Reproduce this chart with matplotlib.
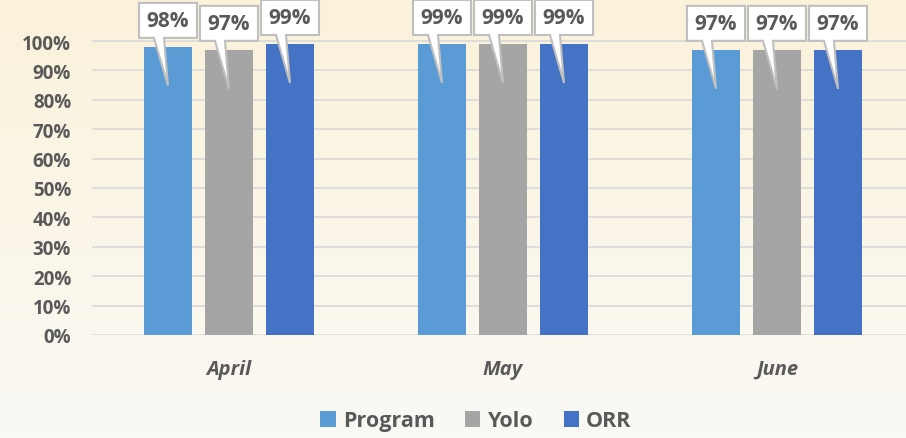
import numpy as np
import matplotlib.pyplot as plt
import matplotlib.transforms as transforms
from matplotlib.patches import Polygon

# Chart data
months = ['April', 'May', 'June']
series = ['Program', 'Yolo', 'ORR']
program = [0.98, 0.99, 0.97]
yolo = [0.97, 0.99, 0.97]
orr = [0.99, 0.99, 0.97]
colors = ['#5B9BD5', '#A5A5A5', '#4472C4']
yticks = np.arange(0, 1.01, 0.1)

TEXT = '#595959'
plt.rcParams['font.family'] = ['Open Sans', 'DejaVu Sans']

fig = plt.figure(figsize=(9.06, 4.39), dpi=100)

# Background gradient (cream at top, near white at bottom)
bg = fig.add_axes([0, 0, 1, 1], zorder=-10)
top = np.array([251, 242, 218]) / 255
bottom = np.array([250, 249, 245]) / 255
t = np.linspace(0, 1, 256)[:, None]
grad = top * (1 - t) + bottom * t
bg.imshow(grad[:, None, :], aspect='auto', extent=[0, 1, 0, 1])
bg.axis('off')

W, H = 906, 439
ax = fig.add_axes([92 / W, (H - 336) / H, (906 - 92) / W, 336 / H])
ax.patch.set_alpha(0)

x = np.arange(len(months))
bw = 48 / 274
step = 61 / 274
for i, (name, vals) in enumerate(zip(series, [program, yolo, orr])):
    ax.bar(x + (i - 1) * step, vals, width=bw, color=colors[i], label=name, zorder=2)

ax.set_xlim(-0.5, -0.5 + 814 / 274)
ax.set_ylim(0, 336 / 294)
ax.set_yticks(yticks)
ax.set_yticklabels([f'{int(round(v * 100))}%' for v in yticks],
                   fontsize=13.5, fontweight='bold', color=TEXT)
ax.set_xticks(x)
ax.set_xticklabels(months, fontsize=14.5, fontweight='bold', style='italic', color=TEXT)
ax.tick_params(axis='y', length=0, pad=15)
ax.tick_params(axis='x', length=0, pad=17)
for s in ax.spines.values():
    s.set_visible(False)
for v in yticks:
    ax.axhline(v, color='#D9D9D9', lw=1.2, zorder=1)

# Callout labels: box above bar with a pointer reaching into the bar
def callout(xc, yv, label):
    trans = fig.dpi_scale_trans + transforms.ScaledTranslation(xc, yv, ax.transData)
    pts = np.array([
        (-29, 9), (-29, 44), (29, 44), (29, 9), (-4, 9), (0, -39), (-14, 9)
    ]) / 100.0
    poly = Polygon(pts, closed=True, transform=trans, facecolor='white',
                   edgecolor='#BFBFBF', lw=1.5, zorder=5, clip_on=False)
    fig.add_artist(poly)
    fig.text(0, 0.265, label, transform=trans, ha='center', va='center',
             fontsize=15, fontweight='bold', color=TEXT, zorder=6)

for i, vals in enumerate([program, yolo, orr]):
    for j, v in enumerate(vals):
        callout(x[j] + (i - 1) * step, v, f'{int(round(v * 100))}%')

leg = fig.legend(loc='center', bbox_to_anchor=(476 / W, 1 - 422 / H), ncol=3,
                 frameon=False, handlelength=0.7, handleheight=0.7,
                 handletextpad=0.35, columnspacing=1.4,
                 prop={'size': 15.5, 'weight': 'bold'})
for txt in leg.get_texts():
    txt.set_color(TEXT)

fig.savefig('out.png', dpi=100)
